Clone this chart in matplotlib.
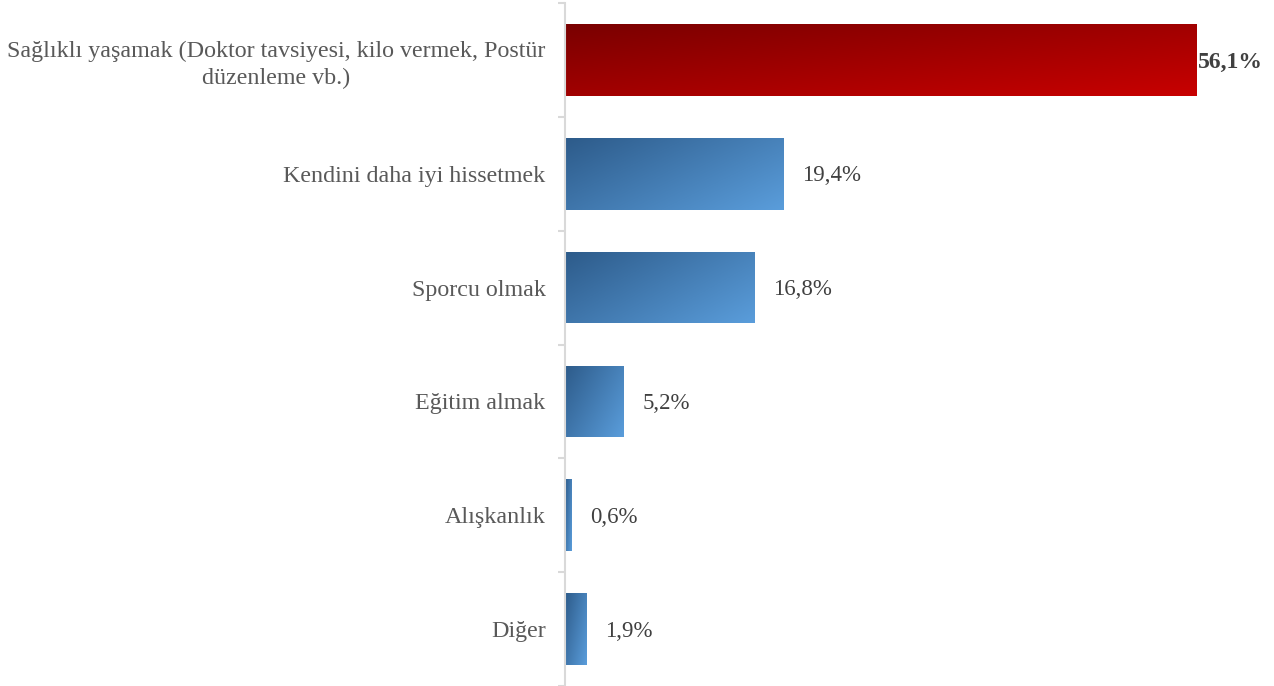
import matplotlib
matplotlib.use("Agg")
import matplotlib.pyplot as plt
import numpy as np
from matplotlib.colors import LinearSegmentedColormap

categories = ["Sağlıklı yaşamak (Doktor tavsiyesi, kilo vermek, Postür\ndüzenleme vb.)",
              "Kendini daha iyi hissetmek", "Sporcu olmak", "Eğitim almak",
              "Alışkanlık", "Diğer"]
values = [56.1, 19.4, 16.8, 5.2, 0.6, 1.9]
labels = ["56,1%", "19,4%", "16,8%", "5,2%", "0,6%", "1,9%"]

plt.rcParams['font.family'] = ['Liberation Serif', 'DejaVu Serif']

fig = plt.figure(figsize=(12.74, 6.86), dpi=100)
ax = fig.add_axes([565/1274, 0.0, 1 - 565/1274, 1 - 3/686])

n = len(categories)
ypos = np.arange(n)
bars = ax.barh(ypos, values, height=0.63, color='none', edgecolor='none', zorder=2)

red_cmap = LinearSegmentedColormap.from_list("r", ["#7a0000", "#c80000"])
blue_cmap = LinearSegmentedColormap.from_list("b", ["#2d5b8a", "#5a9ddb"])

gx, gy = np.meshgrid(np.linspace(0, 1, 200), np.linspace(0, 1, 60))
for i, b in enumerate(bars):
    x0, y0 = b.get_x(), b.get_y()
    w, h = b.get_width(), b.get_height()
    cmap = red_cmap if i == 0 else blue_cmap
    if i == 0:
        grad = 0.5 * gx + 0.5 * gy
    else:
        grad = 0.6 * gx + 0.4 * gy
    im = ax.imshow(grad, cmap=cmap, vmin=0, vmax=1, aspect='auto',
                   extent=[x0, x0 + w, y0 + h, y0], origin='upper',
                   interpolation='bilinear', zorder=2)
    im.set_clip_path(b)

for i, (v, lab) in enumerate(zip(values, labels)):
    if i == 0:
        ax.annotate(lab, (v, i), xytext=(1.5, -1.5), textcoords='offset points',
                    va='center', ha='left', fontsize=17, fontweight='bold',
                    color='#404040')
    else:
        ax.annotate(lab, (v, i), xytext=(13.5, -1.5), textcoords='offset points',
                    va='center', ha='left', fontsize=16.5, color='#404040')

ax.set_xlim(0, 63)
ax.set_ylim(n - 0.5, -0.5)
ax.set_yticks(ypos)
ax.set_yticklabels(categories, fontsize=17.3, color='#595959',
                   multialignment='center', linespacing=1.35)
ax.set_yticks(np.arange(-0.5, n, 1), minor=True)
ax.tick_params(axis='y', which='major', length=0, pad=14)
ax.tick_params(axis='y', which='minor', length=5, width=1.5, color='#d9d9d9', direction='out')
ax.set_xticks([])
for s in ['top', 'right', 'bottom']:
    ax.spines[s].set_visible(False)
ax.spines['left'].set_color('#d9d9d9')
ax.spines['left'].set_linewidth(1.5)

fig.savefig("out.png", dpi=100)
